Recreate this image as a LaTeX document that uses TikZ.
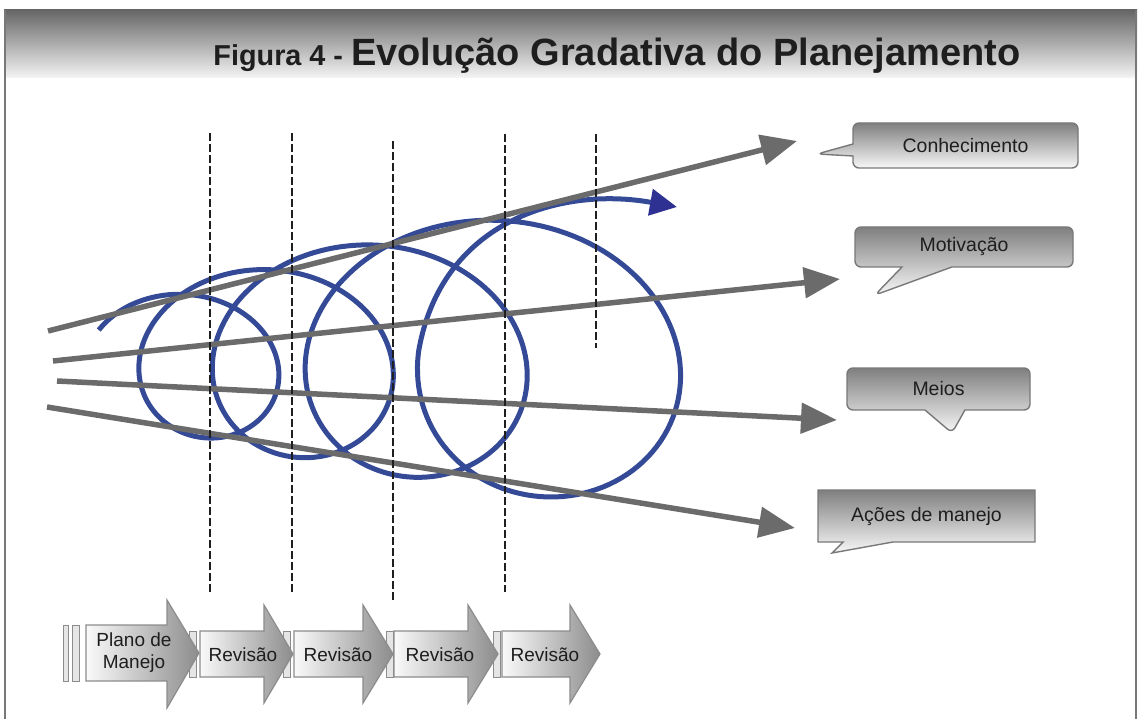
\documentclass[tikz,border=0pt]{standalone}
\usepackage{fontspec}
\setmainfont{Liberation Sans}
\usetikzlibrary{arrows.meta}
\usetikzlibrary{shapes.callouts}
\usetikzlibrary{positioning}
\definecolor{cinzalinha}{RGB}{107,107,107}
\definecolor{azulespiral}{RGB}{52,74,150}
\definecolor{azulponta}{RGB}{46,49,146}
\definecolor{cinzaborda}{RGB}{120,120,120}
\definecolor{quasepreto}{RGB}{30,30,30}
\tikzset{
  vetor/.style={draw=cinzalinha, line width=5.5pt, -{Triangle[length=36pt,width=30pt]}},
  corte/.style={draw=black!88, line width=2.8pt, dash pattern=on 8pt off 3pt},
  balao/.style={rectangle callout, draw=cinzaborda, line width=1.4pt, rounded corners=6pt,
    top color=black!50, bottom color=black!3, text=quasepreto,
    font=\fontsize{19.5}{22}\selectfont, inner sep=0pt},
  etapa/.style={draw=black!45, line width=1.2pt, left color=black!2, right color=black!45},
  trava/.style={draw=black!45, line width=1pt, fill=black!10},
  rotulo/.style={text=quasepreto, font=\fontsize{19}{22}\selectfont, align=center}
}

\begin{document}
\begin{tikzpicture}[x=1pt,y=-1pt]
  \useasboundingbox (0,0) rectangle (1140,719);

  % faixa do titulo
  \shade[top color=black!60, bottom color=black!4] (4,10) rectangle (1137,78);
  \draw[cinzaborda, line width=1.5pt] (5,10) -- (5,719);
  \draw[cinzaborda, line width=1.5pt] (1136,10) -- (1136,719);
  \node[anchor=base, text=quasepreto] (titulo) at (617,66)
    {\fontsize{28.8}{30}\selectfont\bfseries Figura 4 - {\fontsize{38}{40}\selectfont Evolução Gradativa do Planejamento}};

  % pontos das setas cinzas
  \coordinate (c1a) at (48,331);  \coordinate (c1b) at (797,141);
  \coordinate (c2a) at (53,361);  \coordinate (c2b) at (840,279);
  \coordinate (c3a) at (57,381);  \coordinate (c3b) at (837,420);
  \coordinate (c4a) at (47,407);  \coordinate (c4b) at (795,528);
  \coordinate (sp-fim) at (677,207);

  % espiral
  \draw[azulespiral, line width=5pt, line join=round,
        -{Triangle[length=27pt,width=26pt,color=azulponta]}]
    plot[domain=-60:1350, samples=500, variable=\t]
      ({214+0.234*(\t-180)+0.75*((\t-180)/100)*((\t-180)/100)+(90+0.07*(\t-180))*sin(\t)},
       {360-0.007*(\t-180)-(78+0.0616*(\t-180))*cos(\t)})
    .. controls +(22,-130) and (560,186) .. (sp-fim);

  % setas cinzas
  \draw[vetor] (c1a) -- (c1b);
  \draw[vetor] (c2a) -- (c2b);
  \draw[vetor] (c3a) -- (c3b);
  \draw[vetor] (c4a) -- (c4b);

  % linhas tracejadas
  \foreach \x/\ya/\yb in {210/133/592, 292/133/592, 393/141/600, 505/134/592, 596/134/348}
    \draw[corte] (\x,\ya) -- (\x,\yb);

  % baloes
  \node[balao, minimum width=225pt, minimum height=45pt, callout pointer width=12pt,
        callout absolute pointer={(817,154)}] (conhec) at (965.5,145.5) {Conhecimento};
  \node[balao, minimum width=218pt, minimum height=40pt, callout pointer width=50pt,
        callout absolute pointer={(875,295)}] (motiv) at (964,247) {Motivação};
  \node[balao, minimum width=183pt, minimum height=42pt, callout pointer width=40pt,
        callout absolute pointer={(952,433)}] (meios) at (938.5,389) {Meios};
  \node[balao, sharp corners, minimum width=217pt, minimum height=52pt, callout pointer width=50pt,
        callout absolute pointer={(832,553)}] (acoes) at (926.5,516) {Ações de manejo};

  % etapas embaixo
  \draw[trava] (63,625) rectangle (68,681);
  \draw[trava] (72,625) rectangle (79,681);
  \foreach \x in {189,283,386,493}
    \draw[trava] (\x,631) rectangle ++(7,46);
  \draw[etapa] (86,625) -- (167,625) -- (167,600) -- (199,653) -- (167,708) -- (167,681) -- (86,681) -- cycle;
  \foreach \xa/\xb/\xc in {200/264/293, 294/363/393, 394/468/498, 502/570/600}
    \draw[etapa] (\xa,631) -- (\xb,631) -- (\xb,605) -- (\xc,654) -- (\xb,703) -- (\xb,677) -- (\xa,677) -- cycle;
  \node[rotulo] (plano) at (134,653) {Plano de\\Manejo};
  \node[rotulo] (rev1) at (243,655) {Revisão};
  \node[rotulo] (rev2) at (338,655) {Revisão};
  \node[rotulo] (rev3) at (440,655) {Revisão};
  \node[rotulo] (rev4) at (545,655) {Revisão};
\end{tikzpicture}
\end{document}
